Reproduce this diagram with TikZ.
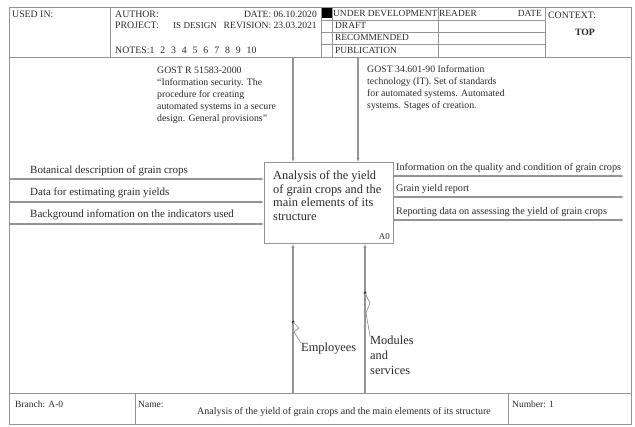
\documentclass[tikz,border=0pt]{standalone}
\usepackage{fontspec}
\setmainfont{Liberation Serif}
\usetikzlibrary{arrows.meta}
\definecolor{ln}{HTML}{959595}
\definecolor{tx}{HTML}{2B2B2B}
\newcommand{\ngap}{\hspace{5.9pt}}
\begin{document}
\begin{tikzpicture}[x=1pt,y=-1pt,
  frame/.style={draw=ln, line width=0.9pt},
  arr/.style={draw=ln, line width=1.2pt, -{Latex[length=4pt,width=3.4pt]}},
  sq/.style={draw=ln, line width=0.7pt},
  inlbl/.style={anchor=base west, inner sep=0, text=tx, font=\fontsize{11}{12}\selectfont},
  outlbl/.style={anchor=base west, inner sep=0, text=tx, font=\fontsize{10.2}{12}\selectfont},
  lbl/.style={anchor=base west, inner sep=0, text=tx, font=\fontsize{9.5}{11}\selectfont},
  hdr/.style={anchor=base west, inner sep=0, text=tx, font=\fontsize{9.8}{11}\selectfont},
  hdre/.style={anchor=base east, inner sep=0, text=tx, font=\fontsize{9.6}{11}\selectfont},
  stat/.style={anchor=base west, inner sep=0, text=tx, font=\fontsize{9.4}{11}\selectfont},
  state/.style={anchor=base east, inner sep=0, text=tx, font=\fontsize{9.4}{11}\selectfont},
  gost/.style={anchor=base west, inner sep=0, text=tx, font=\fontsize{9.8}{11}\selectfont},
  big/.style={anchor=base west, inner sep=0, text=tx, font=\fontsize{12.4}{13.5}\selectfont},
  procbox/.style={draw=ln, line width=0.9pt, inner sep=0, anchor=north west}]
\useasboundingbox (0,0) rectangle (635,427);
\fill[white] (0,0) rectangle (635,427);
% frame
\draw[frame] (9,7) rectangle (631,424);
\draw[frame] (9,57) -- (631,57);
\draw[frame] (9,393) -- (631,393);
\draw[frame] (110,7) -- (110,57);
\draw[frame] (321,7) -- (321,57);
\draw[frame] (332,7) -- (332,57);
\draw[frame] (438,7) -- (438,57);
\draw[frame] (545,7) -- (545,57);
\draw[frame] (321,20) -- (545,20);
\draw[frame] (321,32) -- (545,32);
\draw[frame] (321,44) -- (545,44);
\fill[black] (322,8) rectangle (332,18);
\draw[frame] (135,393) -- (135,424);
\draw[frame] (508,393) -- (508,424);
% header text
\node[hdr] (usedin) at (12,18) {USED IN:};
\node[hdr] (author) at (115,18) {AUTHOR:};
\node[hdre] (date1) at (317,18) {DATE: 06.10.2020};
\node[hdr] (project) at (115,29) {PROJECT:};
\node[anchor=base west, inner sep=0, text=tx, font=\fontsize{9.1}{11}\selectfont] (isd) at (173,29) {IS DESIGN};
\node[hdre] (rev) at (317,29) {REVISION: 23.03.2021};
\node[hdr] (notes) at (115,54) {NOTES:1\ngap 2\ngap 3\ngap 4\ngap 5\ngap 6\ngap 7\ngap 8\ngap 9\ngap 10};
\node[stat] (undev) at (333,17) {UNDER DEVELOPMENT};
\node[stat] (draft) at (335,29) {DRAFT};
\node[stat] (recom) at (335,41) {RECOMMENDED};
\node[stat] (publ) at (335,54) {PUBLICATION};
\node[stat] (reader) at (439,17) {READER};
\node[state] (date2) at (542,17) {DATE};
\node[hdr] (context) at (548,19) {CONTEXT:};
\node[anchor=base, inner sep=0, text=tx, font=\fontsize{9.7}{11}\selectfont\bfseries] (top) at (585,36) {TOP};
% process box
\node[procbox, minimum width=129pt, minimum height=81pt] (A0) at (264,162) {};
\node[big] (t1) at (273,180) {Analysis of the yield};
\node[big] (t2) at (273,193.5) {of grain crops and the};
\node[big] (t3) at (273,207) {main elements of its};
\node[big] (t4) at (273,220.5) {structure};
\node[anchor=base east, inner sep=0, text=tx, font=\fontsize{9}{10}\selectfont] (a0l) at (390,240) {A0};
% controls
\coordinate (c1) at (293,57);
\coordinate (c2) at (358,57);
\draw[arr] (c1) -- (c1 |- A0.north);
\draw[arr] (c2) -- (c2 |- A0.north);
\node[gost] (g1a) at (157,74) {GOST R 51583-2000};
\node[gost] (g1b) at (157,86) {``Information security. The};
\node[gost] (g1c) at (157,98) {procedure for creating};
\node[gost] (g1d) at (157,110) {automated systems in a secure};
\node[gost] (g1e) at (157,122) {design. General provisions''};
\node[gost] (g2a) at (367,73) {GOST 34.601-90 Information};
\node[gost] (g2b) at (367,85) {technology (IT). Set of standards};
\node[gost] (g2c) at (367,97) {for automated systems. Automated};
\node[gost] (g2d) at (367,109) {systems. Stages of creation.};
% inputs
\coordinate (i1) at (9,179);
\coordinate (i2) at (9,202);
\coordinate (i3) at (9,224);
\draw[arr] (i1) -- (i1 -| A0.west);
\draw[arr] (i2) -- (i2 -| A0.west);
\draw[arr] (i3) -- (i3 -| A0.west);
\node[inlbl] (in1) at (30,174) {Botanical description of grain crops};
\node[inlbl] (in2) at (30,196) {Data for estimating grain yields};
\node[inlbl] (in3) at (30,218) {Background infomation on the indicators used};
% outputs
\coordinate (o1) at (624,176);
\coordinate (o2) at (624,197);
\coordinate (o3) at (624,220);
\draw[arr] (o1 -| A0.east) -- (o1);
\draw[arr] (o2 -| A0.east) -- (o2);
\draw[arr] (o3 -| A0.east) -- (o3);
\node[outlbl] (out1) at (396,171) {Information on the quality and condition of grain crops};
\node[outlbl] (out2) at (396,192) {Grain yield report};
\node[outlbl] (out3) at (396,215) {Reporting data on assessing the yield of grain crops};
% mechanisms
\coordinate (m1) at (293,393);
\coordinate (m2) at (365,393);
\draw[arr] (m1) -- (m1 |- A0.south);
\draw[arr] (m2) -- (m2 |- A0.south);
\node[big] (emp) at (301,352) {Employees};
\node[big] (mod1) at (370,345) {Modules};
\node[big] (mod2) at (370,360) {and};
\node[big] (mod3) at (370,375) {services};
\coordinate (d1) at (293,322);
\coordinate (d2) at (365,293);
\fill[tx] (d1) circle (1.5);
\fill[tx] (d2) circle (1.5);
\draw[sq] (d1) -- (299,328) -- (294,332) -- (emp.north west);
\draw[sq] (d2) -- (370,303) -- (366,313) -- (mod1.north west);
% bottom row
\node[lbl] (branch) at (15,408) {Branch: A-0};
\node[lbl] (namel) at (138,408) {Name:};
\node[anchor=base, inner sep=0, text=tx, font=\fontsize{10}{11}\selectfont] (namet) at (344,415) {Analysis of the yield of grain crops and the main elements of its structure};
\node[lbl] (numb) at (512,408) {Number: 1};
\end{tikzpicture}
\end{document}
